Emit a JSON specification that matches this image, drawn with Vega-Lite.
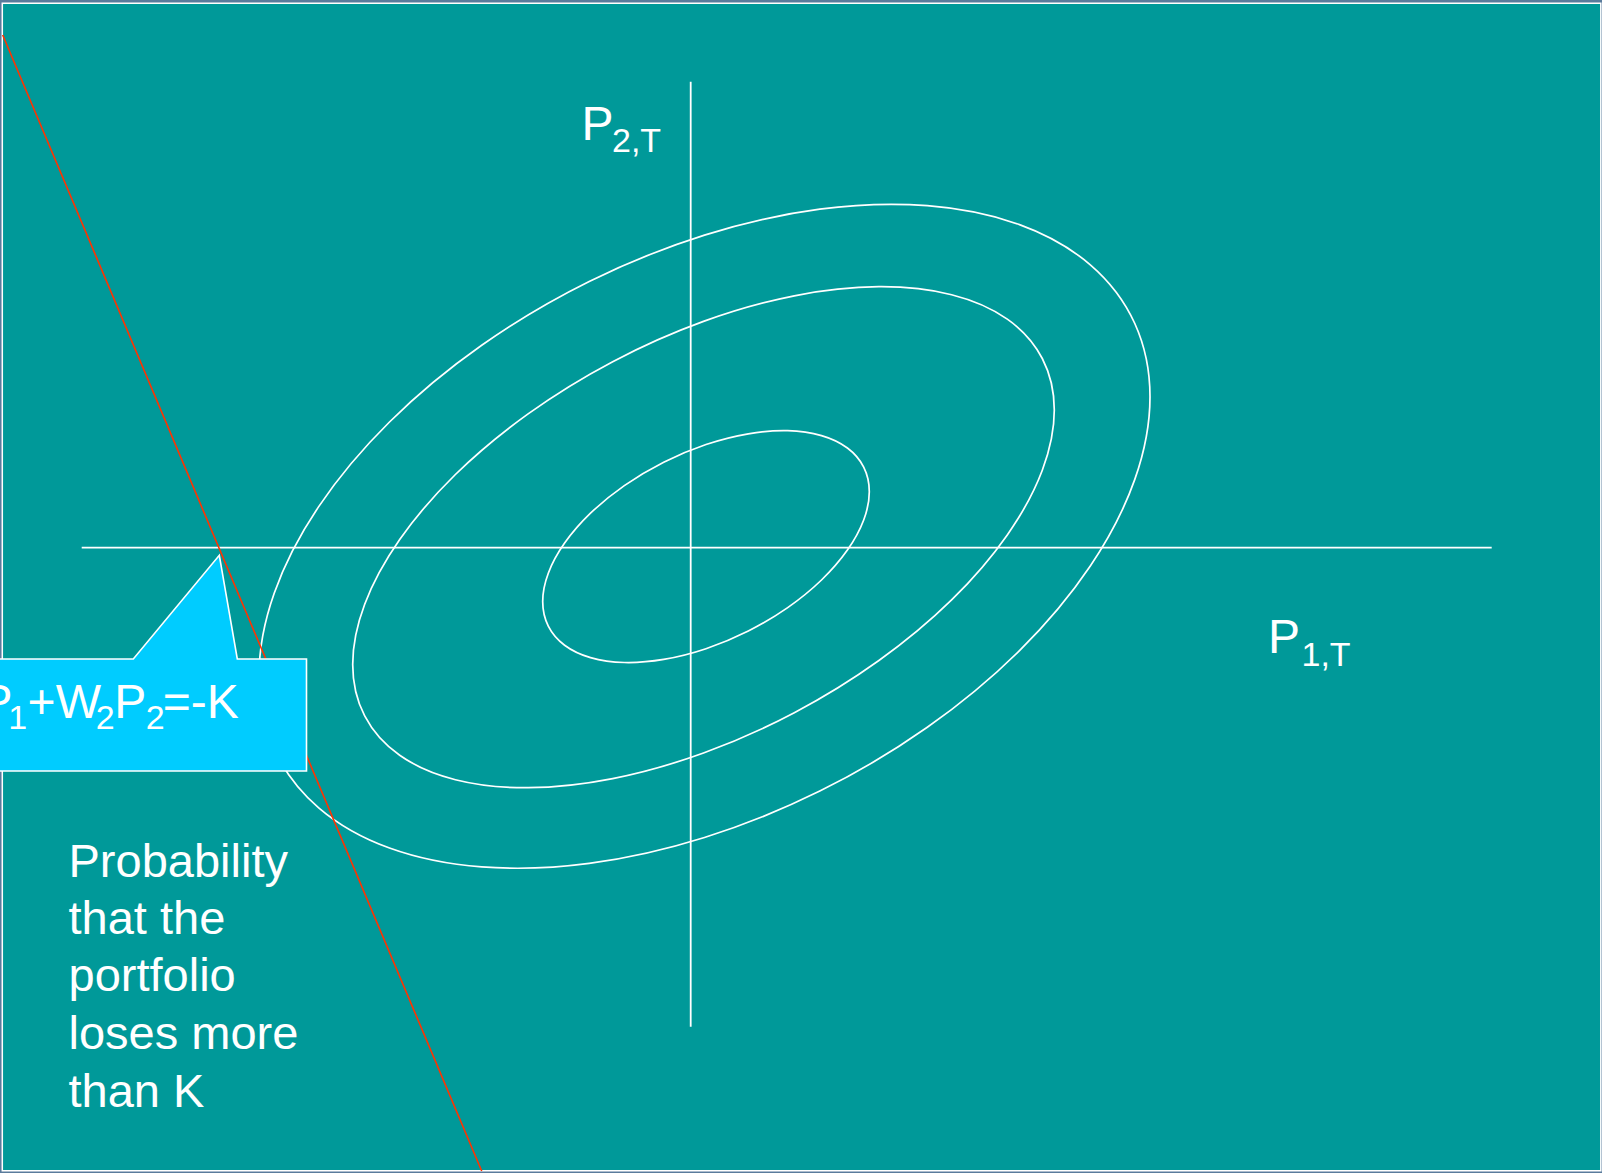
{
  "$schema": "https://vega.github.io/schema/vega-lite/v6.json",
  "width": 1602,
  "height": 1173,
  "autosize": {"type": "none"},
  "padding": 0,
  "background": "#5a7b9c",
  "config": {"view": {"stroke": null}},
  "datasets": {
    "frame": [{"x0": -6.884, "x1": 9.101, "y0": 5.443, "y1": -6.232}],
    "rings": [
      {"ring": "outer", "i": 0, "x": 4.593, "y": 1.509},
      {"ring": "outer", "i": 1, "x": 4.441, "y": 2.241},
      {"ring": "outer", "i": 2, "x": 3.996, "y": 2.828},
      {"ring": "outer", "i": 3, "x": 3.288, "y": 3.230},
      {"ring": "outer", "i": 4, "x": 2.366, "y": 3.419},
      {"ring": "outer", "i": 5, "x": 1.291, "y": 3.384},
      {"ring": "outer", "i": 6, "x": 0.138, "y": 3.125},
      {"ring": "outer", "i": 7, "x": -1.015, "y": 2.661},
      {"ring": "outer", "i": 8, "x": -2.090, "y": 2.023},
      {"ring": "outer", "i": 9, "x": -3.012, "y": 1.256},
      {"ring": "outer", "i": 10, "x": -3.720, "y": 0.410},
      {"ring": "outer", "i": 11, "x": -4.165, "y": -0.456},
      {"ring": "outer", "i": 12, "x": -4.317, "y": -1.283},
      {"ring": "outer", "i": 13, "x": -4.165, "y": -2.015},
      {"ring": "outer", "i": 14, "x": -3.720, "y": -2.602},
      {"ring": "outer", "i": 15, "x": -3.012, "y": -3.004},
      {"ring": "outer", "i": 16, "x": -2.090, "y": -3.193},
      {"ring": "outer", "i": 17, "x": -1.015, "y": -3.158},
      {"ring": "outer", "i": 18, "x": 0.138, "y": -2.899},
      {"ring": "outer", "i": 19, "x": 1.291, "y": -2.435},
      {"ring": "outer", "i": 20, "x": 2.366, "y": -1.797},
      {"ring": "outer", "i": 21, "x": 3.288, "y": -1.030},
      {"ring": "outer", "i": 22, "x": 3.996, "y": -0.184},
      {"ring": "outer", "i": 23, "x": 4.441, "y": 0.682},
      {"ring": "middle", "i": 0, "x": 3.636, "y": 1.376},
      {"ring": "middle", "i": 1, "x": 3.516, "y": 1.891},
      {"ring": "middle", "i": 2, "x": 3.166, "y": 2.285},
      {"ring": "middle", "i": 3, "x": 2.609, "y": 2.529},
      {"ring": "middle", "i": 4, "x": 1.882, "y": 2.609},
      {"ring": "middle", "i": 5, "x": 1.036, "y": 2.518},
      {"ring": "middle", "i": 6, "x": 0.128, "y": 2.262},
      {"ring": "middle", "i": 7, "x": -0.780, "y": 1.859},
      {"ring": "middle", "i": 8, "x": -1.626, "y": 1.337},
      {"ring": "middle", "i": 9, "x": -2.353, "y": 0.731},
      {"ring": "middle", "i": 10, "x": -2.910, "y": 0.081},
      {"ring": "middle", "i": 11, "x": -3.260, "y": -0.566},
      {"ring": "middle", "i": 12, "x": -3.380, "y": -1.168},
      {"ring": "middle", "i": 13, "x": -3.260, "y": -1.683},
      {"ring": "middle", "i": 14, "x": -2.910, "y": -2.077},
      {"ring": "middle", "i": 15, "x": -2.353, "y": -2.321},
      {"ring": "middle", "i": 16, "x": -1.626, "y": -2.401},
      {"ring": "middle", "i": 17, "x": -0.780, "y": -2.310},
      {"ring": "middle", "i": 18, "x": 0.128, "y": -2.054},
      {"ring": "middle", "i": 19, "x": 1.036, "y": -1.651},
      {"ring": "middle", "i": 20, "x": 1.882, "y": -1.129},
      {"ring": "middle", "i": 21, "x": 2.609, "y": -0.523},
      {"ring": "middle", "i": 22, "x": 3.166, "y": 0.127},
      {"ring": "middle", "i": 23, "x": 3.516, "y": 0.774},
      {"ring": "inner", "i": 0, "x": 1.786, "y": 0.559},
      {"ring": "inner", "i": 1, "x": 1.730, "y": 0.805},
      {"ring": "inner", "i": 2, "x": 1.567, "y": 0.996},
      {"ring": "inner", "i": 3, "x": 1.308, "y": 1.120},
      {"ring": "inner", "i": 4, "x": 0.970, "y": 1.169},
      {"ring": "inner", "i": 5, "x": 0.576, "y": 1.138},
      {"ring": "inner", "i": 6, "x": 0.153, "y": 1.031},
      {"ring": "inner", "i": 7, "x": -0.270, "y": 0.854},
      {"ring": "inner", "i": 8, "x": -0.664, "y": 0.620},
      {"ring": "inner", "i": 9, "x": -1.002, "y": 0.344},
      {"ring": "inner", "i": 10, "x": -1.261, "y": 0.045},
      {"ring": "inner", "i": 11, "x": -1.424, "y": -0.256},
      {"ring": "inner", "i": 12, "x": -1.480, "y": -0.539},
      {"ring": "inner", "i": 13, "x": -1.424, "y": -0.785},
      {"ring": "inner", "i": 14, "x": -1.261, "y": -0.976},
      {"ring": "inner", "i": 15, "x": -1.002, "y": -1.100},
      {"ring": "inner", "i": 16, "x": -0.664, "y": -1.149},
      {"ring": "inner", "i": 17, "x": -0.270, "y": -1.118},
      {"ring": "inner", "i": 18, "x": 0.153, "y": -1.011},
      {"ring": "inner", "i": 19, "x": 0.576, "y": -0.834},
      {"ring": "inner", "i": 20, "x": 0.970, "y": -0.600},
      {"ring": "inner", "i": 21, "x": 1.308, "y": -0.324},
      {"ring": "inner", "i": 22, "x": 1.567, "y": -0.025},
      {"ring": "inner", "i": 23, "x": 1.730, "y": 0.276}
    ],
    "axes": [
      {"seg": "h", "i": 0, "x": -6.09, "y": 0},
      {"seg": "h", "i": 1, "x": 8.01, "y": 0},
      {"seg": "v", "i": 0, "x": 0, "y": 4.659},
      {"seg": "v", "i": 1, "x": 0, "y": -4.792}
    ],
    "boundary": [
      {"i": 0, "x": -6.880, "y": 5.126},
      {"i": 1, "x": -2.090, "y": -6.234}
    ],
    "callout": [
      {"i": 0, "x": -7.307, "y": -1.114},
      {"i": 1, "x": -5.574, "y": -1.114},
      {"i": 2, "x": -4.714, "y": -0.077},
      {"i": 3, "x": -4.534, "y": -1.114},
      {"i": 4, "x": -3.842, "y": -1.114},
      {"i": 5, "x": -3.842, "y": -2.234},
      {"i": 6, "x": -7.307, "y": -2.234}
    ],
    "texts": [
      {"t": "W", "role": "main", "x": -7.734, "y": -1.704},
      {"t": "1", "role": "sub", "x": -7.281, "y": -1.814},
      {"t": "P", "role": "main", "x": -7.103, "y": -1.704},
      {"t": "1", "role": "sub", "x": -6.825, "y": -1.814},
      {"t": "+W", "role": "main", "x": -6.631, "y": -1.704},
      {"t": "2", "role": "sub", "x": -5.950, "y": -1.814},
      {"t": "P", "role": "main", "x": -5.765, "y": -1.704},
      {"t": "2", "role": "sub", "x": -5.450, "y": -1.814},
      {"t": "=-K", "role": "main", "x": -5.280, "y": -1.704},
      {"t": "P", "role": "main", "x": -1.093, "y": 4.076},
      {"t": "2,T", "role": "sub", "x": -0.787, "y": 3.961},
      {"t": "P", "role": "main", "x": 5.773, "y": -1.051},
      {"t": "1,T", "role": "sub", "x": 6.108, "y": -1.184},
      {"t": "Probability", "role": "note", "x": -6.222, "y": -3.290},
      {"t": "that the", "role": "note", "x": -6.222, "y": -3.862},
      {"t": "portfolio", "role": "note", "x": -6.222, "y": -4.434},
      {"t": "loses more", "role": "note", "x": -6.222, "y": -5.017},
      {"t": "than K", "role": "note", "x": -6.222, "y": -5.589}
    ]
  },
  "layer": [
    {
      "data": {"name": "frame"},
      "mark": {"type": "rect", "fill": "#009999", "stroke": "#ffffff", "strokeWidth": 1.5},
      "encoding": {
        "x": {"field": "x0", "type": "quantitative", "scale": {"domain": [-6.907, 9.113], "nice": false, "zero": false}, "axis": null},
        "x2": {"field": "x1"},
        "y": {"field": "y0", "type": "quantitative", "scale": {"domain": [-6.254, 5.476], "nice": false, "zero": false}, "axis": null},
        "y2": {"field": "y1"}
      }
    },
    {
      "data": {"name": "rings"},
      "mark": {"type": "line", "interpolate": "cardinal-closed", "stroke": "#ffffff", "strokeWidth": 1.7},
      "encoding": {
        "x": {"field": "x", "type": "quantitative"},
        "y": {"field": "y", "type": "quantitative"},
        "detail": {"field": "ring", "type": "nominal"},
        "order": {"field": "i", "type": "quantitative"}
      }
    },
    {
      "data": {"name": "axes"},
      "mark": {"type": "line", "stroke": "#ffffff", "strokeWidth": 1.8},
      "encoding": {
        "x": {"field": "x", "type": "quantitative"},
        "y": {"field": "y", "type": "quantitative"},
        "detail": {"field": "seg", "type": "nominal"},
        "order": {"field": "i", "type": "quantitative"}
      }
    },
    {
      "data": {"name": "boundary"},
      "mark": {"type": "line", "stroke": "#ff3300", "strokeWidth": 1.6},
      "encoding": {
        "x": {"field": "x", "type": "quantitative"},
        "y": {"field": "y", "type": "quantitative"},
        "order": {"field": "i", "type": "quantitative"}
      }
    },
    {
      "data": {"name": "callout"},
      "mark": {"type": "line", "interpolate": "linear-closed", "fill": "#00ccff", "stroke": "#ffffff", "strokeWidth": 1.6},
      "encoding": {
        "x": {"field": "x", "type": "quantitative"},
        "y": {"field": "y", "type": "quantitative"},
        "order": {"field": "i", "type": "quantitative"}
      }
    },
    {
      "data": {"name": "texts"},
      "transform": [{"filter": "datum.role == 'main'"}],
      "mark": {"type": "text", "align": "left", "baseline": "alphabetic", "font": "Liberation Sans", "fontSize": 48, "color": "#ffffff"},
      "encoding": {
        "x": {"field": "x", "type": "quantitative"},
        "y": {"field": "y", "type": "quantitative"},
        "text": {"field": "t"}
      }
    },
    {
      "data": {"name": "texts"},
      "transform": [{"filter": "datum.role == 'sub'"}],
      "mark": {"type": "text", "align": "left", "baseline": "alphabetic", "font": "Liberation Sans", "fontSize": 34, "color": "#ffffff"},
      "encoding": {
        "x": {"field": "x", "type": "quantitative"},
        "y": {"field": "y", "type": "quantitative"},
        "text": {"field": "t"}
      }
    },
    {
      "data": {"name": "texts"},
      "transform": [{"filter": "datum.role == 'note'"}],
      "mark": {"type": "text", "align": "left", "baseline": "alphabetic", "font": "Liberation Sans", "fontSize": 47, "color": "#ffffff"},
      "encoding": {
        "x": {"field": "x", "type": "quantitative"},
        "y": {"field": "y", "type": "quantitative"},
        "text": {"field": "t"}
      }
    }
  ]
}
